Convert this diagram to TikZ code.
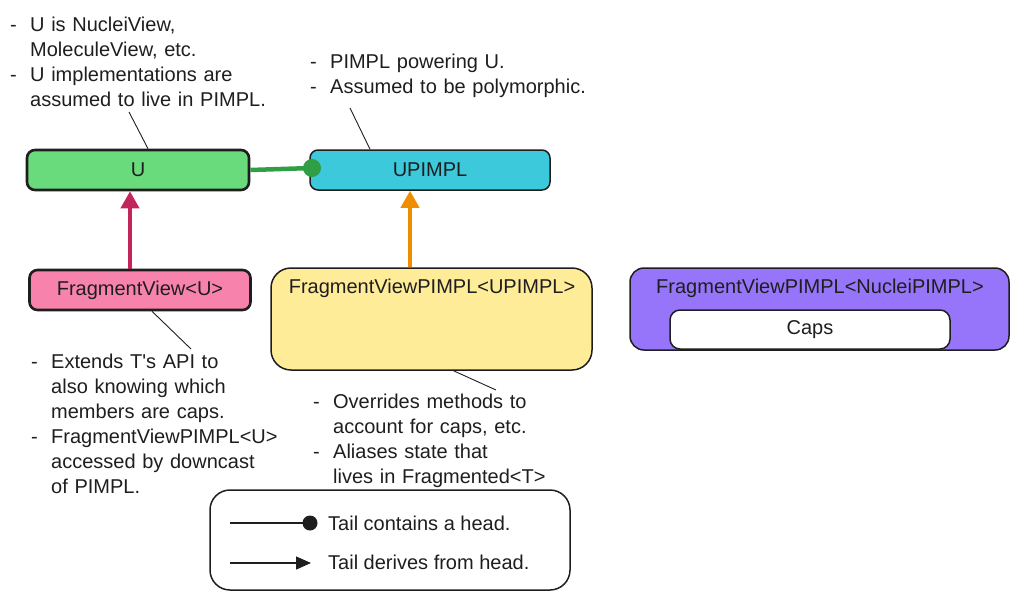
\documentclass[tikz,border=0pt]{standalone}
\usepackage{fontspec}
\setmainfont{Liberation Sans}[Ligatures=TeXOff]
\usetikzlibrary{arrows.meta}
\definecolor{ink}{HTML}{1E1E1E}
\definecolor{boxgreen}{HTML}{69DB7C}
\definecolor{boxcyan}{HTML}{3BC9DB}
\definecolor{boxpink}{HTML}{F783AC}
\definecolor{boxyellow}{HTML}{FFEC99}
\definecolor{boxpurple}{HTML}{9775FA}
\definecolor{arrcrimson}{HTML}{C2255C}
\definecolor{arrorange}{HTML}{F08C00}
\definecolor{arrgreen}{HTML}{2F9E44}
\newcommand{\annd}{\makebox[20pt][l]{-}}
\newcommand{\annc}{\hspace*{20pt}}
\begin{document}
\begin{tikzpicture}[x=1pt,y=-1pt,
  txt/.style={font=\fontsize{20}{25}\selectfont, text=ink},
  boxsty/.style={txt, draw=ink, line width=1.5pt, rounded corners=8pt, inner sep=0pt},
  thickbox/.style={boxsty, line width=2.6pt},
  annot/.style={txt, anchor=north west, inner sep=0pt, align=left, text width=420pt},
  pointer/.style={draw=ink, line width=0.9pt},
  derives/.style={line width=4pt, -{Triangle[length=17pt,width=18pt]}},
]
\useasboundingbox (0,0) rectangle (1020,600);

% boxes
\node[thickbox, fill=boxgreen, minimum width=222pt, minimum height=40pt] (u) at (138,170) {U};
\node[boxsty, fill=boxcyan, minimum width=240pt, minimum height=40pt] (upimpl) at (430,170) {UPIMPL};
\node[thickbox, fill=boxpink, minimum width=221pt, minimum height=40pt] (fv) at (140,290) {FragmentView<U>};
\node[boxsty, fill=boxyellow, rounded corners=20pt, minimum width=321pt, minimum height=102pt] (fvp) at (431.5,319) {};
\node[txt, anchor=base, inner sep=0pt] (fvplabel) at (432,293) {FragmentViewPIMPL<UPIMPL>};
\node[boxsty, fill=boxpurple, rounded corners=14pt, minimum width=379pt, minimum height=82pt] (fvn) at (819.5,309) {};
\node[txt, anchor=base, inner sep=0pt] (fvnlabel) at (820,293) {FragmentViewPIMPL<NucleiPIMPL>};
\node[boxsty, fill=white, rounded corners=10pt, minimum width=280pt, minimum height=39pt] (caps) at (810,329.5) {Caps};

% connectors
\coordinate (udot) at (312,168);
\draw[arrgreen, line width=4.5pt] (u.east) -- (udot);
\fill[arrgreen] (udot) circle (9pt);
\draw[derives, arrcrimson] ([xshift=-10pt]fv.north) -- ([xshift=-8pt]u.south);
\draw[derives, arrorange] ([xshift=-21.5pt]fvp.north) -- ([xshift=-20pt]upimpl.south);

% annotations
\node[annot] (a1) at (10,13.5) {\strut\annd U is NucleiView,\\
\annc MoleculeView, etc.\\
\annd U implementations are\\
\annc assumed to live in PIMPL.};
\node[annot] (a2) at (310,50.5) {\strut\annd PIMPL powering U.\\
\annd Assumed to be polymorphic.};
\node[annot] (a3) at (31,350.5) {\strut\annd Extends T's API to\\
\annc also knowing which\\
\annc members are caps.\\
\annd FragmentViewPIMPL<U>\\
\annc accessed by downcast\\
\annc of PIMPL.};
\node[annot] (a4) at (313,390.5) {\strut\annd Overrides methods to\\
\annc account for caps, etc.\\
\annd Aliases state that\\
\annc lives in Fragmented<T>};

\coordinate (a1p) at (129,112);
\coordinate (a2p) at (350,108);
\coordinate (a3p) at (191,349);
\coordinate (a4p) at (496,390);
\draw[pointer] (a1p) -- ([xshift=10pt]u.north);
\draw[pointer] (a2p) -- ([xshift=-60pt]upimpl.north);
\draw[pointer] ([xshift=12pt]fv.south) -- (a3p);
\draw[pointer] ([xshift=22pt]fvp.south) -- (a4p);

% legend
\node[boxsty, rounded corners=20pt, minimum width=360pt, minimum height=100pt] (legend) at (390,540) {};
\coordinate (l1a) at (230,523);
\coordinate (l1b) at (310,523);
\coordinate (l2a) at (230,563);
\coordinate (l2b) at (311,563);
\draw[ink, line width=1.2pt] (l1a) -- (l1b);
\fill[ink] (l1b) circle (7.5pt);
\draw[ink, line width=1.2pt, -{Triangle[length=15pt,width=13pt]}] (l2a) -- (l2b);
\node[txt, anchor=base west, inner sep=0pt] (leg1) at (328,530) {Tail contains a head.};
\node[txt, anchor=base west, inner sep=0pt] (leg2) at (328,569) {Tail derives from head.};
\end{tikzpicture}
\end{document}
